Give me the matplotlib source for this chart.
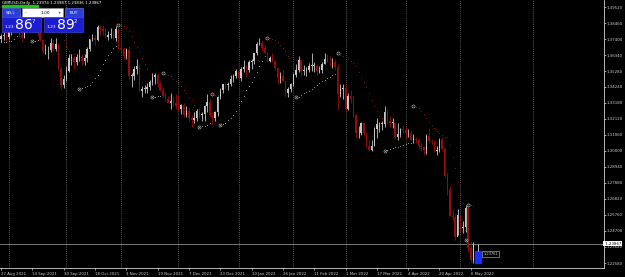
import matplotlib
matplotlib.use("Agg")
import matplotlib.pyplot as plt
import numpy as np
import pandas as pd
from matplotlib.patches import Rectangle

# GBPUSD daily bars, 27 Aug 2021 .. 9 May 2022 (weekdays)
dates = pd.bdate_range("2021-08-27", "2022-05-09")
first_open = 1.3740
closes = [
    1.3760, 1.3760, 1.3756, 1.3795, 1.3830, 1.3870, 1.3830, 1.3770, 1.3750, 1.3835,
    1.3840, 1.3835, 1.3815, 1.3820, 1.3780, 1.3735, 1.3660, 1.3665, 1.3665, 1.3715,
    1.3675, 1.3705, 1.3545, 1.3435, 1.3475, 1.3530, 1.3615, 1.3615, 1.3590, 1.3620,
    1.3620, 1.3595, 1.3615, 1.3675, 1.3740, 1.3745, 1.3735, 1.3820, 1.3805, 1.3795,
    1.3755, 1.3765, 1.3770, 1.3745, 1.3805, 1.3680, 1.3675, 1.3630, 1.3670, 1.3495,
    1.3495, 1.3540, 1.3560, 1.3395, 1.3410, 1.3410, 1.3425, 1.3455, 1.3490, 1.3505,
    1.3440, 1.3405, 1.3365, 1.3345, 1.3320, 1.3330, 1.3315, 1.3300, 1.3280, 1.3305,
    1.3235, 1.3265, 1.3215, 1.3205, 1.3220, 1.3265, 1.3235, 1.3245, 1.3295, 1.3325,
    1.3235, 1.3220, 1.3255, 1.3355, 1.3405, 1.3440, 1.3435, 1.3445, 1.3475, 1.3495,
    1.3530, 1.3480, 1.3540, 1.3555, 1.3535, 1.3590, 1.3595, 1.3645, 1.3710, 1.3715,
    1.3680, 1.3645, 1.3595, 1.3615, 1.3595, 1.3550, 1.3480, 1.3495, 1.3465, 1.3385,
    1.3410, 1.3445, 1.3505, 1.3535, 1.3600, 1.3530, 1.3530, 1.3535, 1.3560, 1.3560,
    1.3560, 1.3530, 1.3535, 1.3575, 1.3610, 1.3590, 1.3585, 1.3590, 1.3555, 1.3375,
    1.3410, 1.3415, 1.3275, 1.3365, 1.3345, 1.3240, 1.3115, 1.3115, 1.3185, 1.3115,
    1.3035, 1.3005, 1.3030, 1.3145, 1.3175, 1.3180, 1.3180, 1.3260, 1.3200, 1.3185,
    1.3185, 1.3090, 1.3110, 1.3145, 1.3140, 1.3115, 1.3115, 1.3075, 1.3075, 1.3070,
    1.3035, 1.3025, 1.3005, 1.3100, 1.3065, 1.3060, 1.3000, 1.3005, 1.3070, 1.3015,
    1.2835, 1.2740, 1.2570, 1.2565, 1.2430, 1.2575, 1.2490, 1.2495, 1.2625, 1.2355,
    1.2280, 1.23867,
]
highs = [
    1.3773, 1.3785, 1.3790, 1.3810, 1.3835, 1.3890, 1.3880, 1.3845, 1.3790, 1.3845,
    1.3870, 1.3860, 1.3913, 1.3860, 1.3830, 1.3790, 1.3740, 1.3710, 1.3695, 1.3750,
    1.3735, 1.3750, 1.3715, 1.3555, 1.3505, 1.3560, 1.3640, 1.3640, 1.3625, 1.3640,
    1.3675, 1.3640, 1.3640, 1.3690, 1.3740, 1.3775, 1.3765, 1.3830, 1.3834, 1.3830,
    1.3810, 1.3790, 1.3810, 1.3790, 1.3825, 1.3815, 1.3705, 1.3690, 1.3680, 1.3695,
    1.3515, 1.3560, 1.3605, 1.3575, 1.3430, 1.3435, 1.3450, 1.3470, 1.3515, 1.3515,
    1.3515, 1.3465, 1.3425, 1.3390, 1.3365, 1.3385, 1.3365, 1.3375, 1.3370, 1.3310,
    1.3320, 1.3300, 1.3290, 1.3240, 1.3255, 1.3275, 1.3285, 1.3260, 1.3305, 1.3375,
    1.3340, 1.3260, 1.3265, 1.3365, 1.3415, 1.3445, 1.3455, 1.3455, 1.3505, 1.3510,
    1.3545, 1.3525, 1.3555, 1.3600, 1.3565, 1.3600, 1.3610, 1.3650, 1.3720, 1.3749,
    1.3725, 1.3700, 1.3655, 1.3630, 1.3650, 1.3600, 1.3555, 1.3520, 1.3535, 1.3465,
    1.3425, 1.3450, 1.3515, 1.3575, 1.3625, 1.3605, 1.3565, 1.3555, 1.3580, 1.3645,
    1.3590, 1.3575, 1.3560, 1.3590, 1.3645, 1.3640, 1.3625, 1.3615, 1.3605, 1.3575,
    1.3445, 1.3440, 1.3440, 1.3385, 1.3405, 1.3365, 1.3250, 1.3165, 1.3190, 1.3185,
    1.3120, 1.3075, 1.3070, 1.3160, 1.3215, 1.3190, 1.3200, 1.3295, 1.3280, 1.3230,
    1.3220, 1.3185, 1.3185, 1.3150, 1.3170, 1.3165, 1.3145, 1.3135, 1.3110, 1.3095,
    1.3085, 1.3050, 1.3035, 1.3110, 1.3150, 1.3080, 1.3070, 1.3035, 1.3085, 1.3090,
    1.3025, 1.2860, 1.2770, 1.2615, 1.2580, 1.2615, 1.2575, 1.2535, 1.2640, 1.2638,
    1.2405, 1.2395,
]
lows = [
    1.3720, 1.3735, 1.3730, 1.3740, 1.3770, 1.3815, 1.3825, 1.3755, 1.3725, 1.3745,
    1.3815, 1.3790, 1.3795, 1.3790, 1.3760, 1.3725, 1.3645, 1.3640, 1.3610, 1.3655,
    1.3660, 1.3660, 1.3535, 1.3412, 1.3415, 1.3460, 1.3520, 1.3570, 1.3545, 1.3570,
    1.3595, 1.3570, 1.3570, 1.3590, 1.3660, 1.3725, 1.3700, 1.3730, 1.3770, 1.3765,
    1.3745, 1.3735, 1.3750, 1.3735, 1.3730, 1.3675, 1.3640, 1.3610, 1.3605, 1.3470,
    1.3425, 1.3470, 1.3510, 1.3390, 1.3355, 1.3380, 1.3380, 1.3405, 1.3435, 1.3445,
    1.3425, 1.3395, 1.3355, 1.3330, 1.3315, 1.3280, 1.3300, 1.3280, 1.3265, 1.3245,
    1.3225, 1.3225, 1.3200, 1.3160, 1.3185, 1.3195, 1.3220, 1.3200, 1.3195, 1.3255,
    1.3225, 1.3170, 1.3195, 1.3230, 1.3340, 1.3385, 1.3410, 1.3405, 1.3430, 1.3455,
    1.3480, 1.3465, 1.3460, 1.3520, 1.3490, 1.3525, 1.3540, 1.3575, 1.3635, 1.3700,
    1.3660, 1.3640, 1.3590, 1.3585, 1.3590, 1.3535, 1.3440, 1.3450, 1.3455, 1.3360,
    1.3355, 1.3390, 1.3430, 1.3490, 1.3520, 1.3495, 1.3500, 1.3495, 1.3520, 1.3530,
    1.3520, 1.3500, 1.3515, 1.3515, 1.3575, 1.3585, 1.3560, 1.3550, 1.3535, 1.3270,
    1.3355, 1.3345, 1.3260, 1.3270, 1.3315, 1.3225, 1.3085, 1.3085, 1.3105, 1.3100,
    1.3025, 1.3000, 1.3000, 1.3030, 1.3085, 1.3125, 1.3135, 1.3160, 1.3180, 1.3160,
    1.3150, 1.3080, 1.3075, 1.3090, 1.3120, 1.3085, 1.3095, 1.3070, 1.3055, 1.3050,
    1.3010, 1.3000, 1.2975, 1.2980, 1.3050, 1.3045, 1.2990, 1.2975, 1.2995, 1.3000,
    1.2825, 1.2710, 1.2570, 1.2540, 1.2410, 1.2440, 1.2465, 1.2455, 1.2460, 1.2330,
    1.2265, 1.2260,
]

bid_price = 1.23867
ask_price = 1.23892
title_text = "GBPUSD,Daily  1.23974 1.23987 1.23836 1.23867"
price_labels = ["1.39520", "1.38460", "1.37400", "1.36340", "1.35280", "1.34240",
                "1.33180", "1.32120", "1.31060", "1.30000", "1.28940", "1.27880",
                "1.26820", "1.25760", "1.24700", "1.23640", "1.22580"]
date_label_every = 12
# blue marker box beside the last bar
blue_box = (1.2337, 1.2258)

up_col = "#c8c8c8"
dn_col = "#9a0a0a"
grid_col = "#7a7a7a"


def psar(h, l, step=0.02, mx=0.2):
    n = len(h)
    sar = np.zeros(n)
    trend = np.zeros(n, dtype=bool)
    up = True
    af = step
    ep = h[0]
    sar[0] = l[0]
    trend[0] = True
    for i in range(1, n):
        s = sar[i - 1] + af * (ep - sar[i - 1])
        if up:
            s = min(s, l[i - 1], l[max(i - 2, 0)])
            if l[i] < s:
                up, s, ep, af = False, ep, l[i], step
            elif h[i] > ep:
                ep, af = h[i], min(af + step, mx)
        else:
            s = max(s, h[i - 1], h[max(i - 2, 0)])
            if h[i] > s:
                up, s, ep, af = True, ep, h[i], step
            elif l[i] < ep:
                ep, af = l[i], min(af + step, mx)
        sar[i] = s
        trend[i] = up
    return sar, trend


c = np.array(closes)
h = np.array(highs)
l = np.array(lows)
o = np.concatenate([[first_open], c[:-1]])
x = np.arange(len(c))

W, H = 625, 277
fig = plt.figure(figsize=(W / 100, H / 100), dpi=100, facecolor="black")
ax = fig.add_axes([0, 9 / H, 604 / W, 268 / H], facecolor="black")
px_per_bar = 2.61
x0 = -1 / px_per_bar
ax.set_xlim(x0, x0 + 604 / px_per_bar)
p_per_px = (1.3952 - 1.2258) / 256
ax.set_ylim(1.2258 - 5 * p_per_px, 1.3952 + 7 * p_per_px)

# month separators (dotted grid)
months = pd.Series(dates.month)
month_starts = x[(months != months.shift()).values][1:]
for m in month_starts:
    ax.axvline(m, color=grid_col, lw=0.6, ls=(0, (1, 1.5)), zorder=1)
ax.axvline(len(c) + 22, color=grid_col, lw=0.6, ls=(0, (1, 1.5)), zorder=1)

# candles
cols = np.where(c >= o, up_col, dn_col)
ax.vlines(x, l, h, colors=cols, lw=0.6, zorder=3)
body_lo = np.minimum(o, c)
body_h = np.maximum(np.abs(c - o), p_per_px * 0.8)
ax.bar(x, body_h, bottom=body_lo, width=0.55, color=cols, lw=0, zorder=3)

# parabolic sar drawn as dots
sar, trend = psar(h, l)
ax.plot(x[trend], sar[trend], ls="none", marker="s", ms=0.7, mew=0,
        color="#8c8c8c", zorder=2)
ax.plot(x[~trend], sar[~trend], ls="none", marker="s", ms=0.7, mew=0,
        color="#8a1010", zorder=2)
flips = np.where(trend[1:] != trend[:-1])[0] + 1
ax.plot(x[flips], sar[flips], ls="none", marker="o", ms=2.2, mfc="none",
        mec="#a8a8a8", mew=0.5, zorder=4)

# blue box and current price line
ax.add_patch(Rectangle((len(c) - 0.2, blue_box[1]), 2.2, blue_box[0] - blue_box[1],
                       color="#1a2cff", zorder=4))
ax.vlines(len(c) + 0.8, blue_box[0], bid_price, color="#e0e0e0", lw=0.6, zorder=4)
ax.text(len(c) + 2.8, (blue_box[0] + blue_box[1]) / 2 + 0.0018, f"{bid_price - 0.00106:.5f}",
        color="#cfcfcf", fontsize=2.6, va="center", ha="left", zorder=5,
        bbox=dict(boxstyle="square,pad=0.25", fc="black", ec="#9a9a9a", lw=0.5))
ax.axhline(bid_price, color="#8a8a8a", lw=0.6, zorder=2)

# axes decoration
for s in ["top", "left"]:
    ax.spines[s].set_visible(False)
ax.spines["right"].set_color("#d0d0d0")
ax.spines["bottom"].set_color("#d0d0d0")
ax.spines["right"].set_linewidth(0.6)
ax.spines["bottom"].set_linewidth(0.6)
ax.yaxis.tick_right()
ax.set_yticks([float(v) for v in price_labels])
ax.set_yticklabels(price_labels)
ax.tick_params(axis="y", colors="#d0d0d0", labelsize=2.8, length=1.2, width=0.5, pad=0.6)
ticks = x[::date_label_every]
ax.set_xticks(ticks)
ax.set_xticklabels([f"{d.day} {d.strftime('%b %Y')}" for d in dates[::date_label_every]],
                   ha="left")
ax.tick_params(axis="x", colors="#d0d0d0", labelsize=2.8, length=1.2, width=0.5, pad=1.5)

# current bid label on the price scale
ax.text(1.0, bid_price, f" {bid_price:.5f}", transform=ax.get_yaxis_transform(),
        fontsize=2.8, color="black", va="center", ha="left", zorder=6,
        bbox=dict(boxstyle="square,pad=0.2", fc="white", ec="white", lw=0))

# one-click trading panel (pixel overlay)
ov = fig.add_axes([0, 0, 1, 1], facecolor="none")
ov.set_xlim(0, W)
ov.set_ylim(H, 0)
ov.axis("off")
ov.text(2, 2.6, title_text, color="white", fontsize=2.9, va="center", ha="left")
ov.add_patch(Rectangle((2, 5), 36, 2, color="#19c219"))
ov.add_patch(Rectangle((2, 8), 18, 9, fc="#2a3ed8", ec="#6f7cf0", lw=0.4))
ov.text(11, 12.5, "SELL", color="white", fontsize=3.0, ha="center", va="center")
ov.add_patch(Rectangle((22, 8), 41, 9, fc="white", ec="#9a9a9a", lw=0.4))
ov.text(25.5, 12.5, "-", color="black", fontsize=3.2, ha="center", va="center")
ov.text(59.5, 12.5, "+", color="black", fontsize=3.2, ha="center", va="center")
ov.text(45, 12.5, "1.00", color="black", fontsize=3.2, ha="center", va="center")
ov.add_patch(Rectangle((65, 8), 18, 9, fc="#2a3ed8", ec="#6f7cf0", lw=0.4))
ov.text(74, 12.5, "BUY", color="white", fontsize=3.0, ha="center", va="center")
for bx, price in [(2, bid_price), (44, ask_price)]:
    ov.add_patch(Rectangle((bx, 17), 39, 15, fc="#1c1cd0", ec="#4a4ae8", lw=0.4))
    s = f"{price:.5f}"
    ov.text(bx + 2.5, 28.5, s[:4], color="white", fontsize=3.2, ha="left", va="baseline")
    ov.text(bx + 13, 29, s[4:6], color="white", fontsize=10, ha="left", va="baseline")
    ov.text(bx + 30, 21.5, s[6], color="white", fontsize=4.0, ha="left", va="center")

fig.savefig("out.png", dpi=100, facecolor="black")
